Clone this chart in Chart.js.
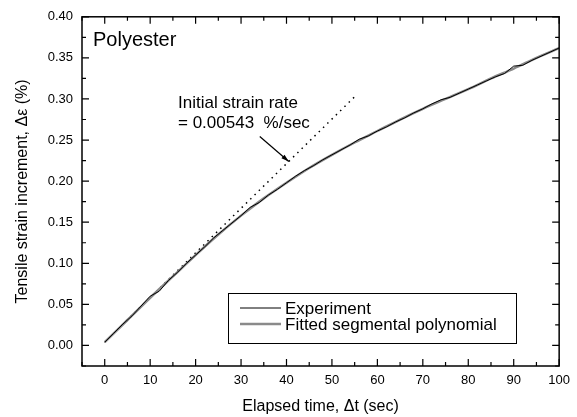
<!DOCTYPE html>
<html>
<head>
<meta charset="utf-8">
<script src="https://cdn.jsdelivr.net/npm/chart.js@4.4.1/dist/chart.umd.min.js"></script>
<style>
	html, body { margin:0; padding:0; background:#fff; }
	#wrap { width:577px; height:417px; }
</style>
</head>
<body>
<div id="wrap"><canvas id="strainChart" width="577" height="417"></canvas></div>
<script>
// elapsed time (sec) / strain increment (%)
var expTime = [0,2,4,6,8,10,12,14,16,18,20,22,24,26,28,30,32,34,36,38,40,42,44,46,48,50,
	52,54,56,58,60,62,64,66,68,70,72,74,76,78,80,82,84,86,88,90,92,94,96,98,100];
var expStrain = [0.004,0.015,0.026,0.036,0.048,0.060,0.066,0.079,0.089,0.100,0.110,0.120,0.131,0.140,0.149,0.158,0.168,0.174,0.183,0.190,
	0.198,0.206,0.213,0.219,0.226,0.232,0.238,0.244,0.251,0.255,0.261,0.266,0.272,0.277,0.283,0.288,0.294,0.299,0.302,0.307,
	0.312,0.317,0.322,0.327,0.331,0.340,0.341,0.347,0.352,0.357,0.362];

var fitTime = [0,5,10,15,20,25,30,35,40,45,50,55,60,65,70,75,80,85,90,95,100];
var fitStrain = [0.004,0.031,0.058,0.084,0.110,0.135,0.158,0.179,0.198,0.216,0.232,0.247,0.261,0.275,0.288,0.300,0.312,0.325,0.337,0.350,0.362];

// initial slope 0.00543 %/sec
var rateTime = [0, 55];
var rateStrain = [0.004, 0.3027];

var xTicks = [0,10,20,30,40,50,60,70,80,90,100];
var yTicks = [0,0.05,0.10,0.15,0.20,0.25,0.30,0.35,0.40];

var FONT = "'Liberation Sans', Arial, sans-serif";

function pts(xs, ys){
	return xs.map(function(x, i){ return {x:x, y:ys[i]}; });
}

var decor = {
	id:'decor',
	afterDraw:function(chart){
		var c = chart.ctx, a = chart.chartArea;
		var xs = chart.scales.x, ys = chart.scales.y;
		c.save();
		// frame
		c.strokeStyle = '#000';
		c.lineWidth = 1.5;
		c.strokeRect(a.left, a.top, a.right - a.left, a.bottom - a.top);
		// inward ticks on all sides
		c.lineWidth = 1.2;
		c.beginPath();
		for(var t = -5; t <= 100; t += 5){
			var px = xs.getPixelForValue(t);
			var len = (t % 10 === 0) ? 7 : 4;
			c.moveTo(px, a.bottom); c.lineTo(px, a.bottom - len);
			c.moveTo(px, a.top); c.lineTo(px, a.top + len);
		}
		for(var k = -1; k <= 16; k++){
			var v = k * 0.025;
			var py = ys.getPixelForValue(v);
			var l2 = (k % 2 === 0) ? 7 : 4;
			c.moveTo(a.left, py); c.lineTo(a.left + l2, py);
			c.moveTo(a.right, py); c.lineTo(a.right - l2, py);
		}
		c.stroke();

		// sample name
		c.fillStyle = '#000';
		c.textBaseline = 'alphabetic';
		c.textAlign = 'left';
		c.font = '20px ' + FONT;
		c.fillText('Polyester', a.left + 11, a.top + 29);

		// slope note and arrow
		c.font = '17px ' + FONT;
		c.fillText('Initial strain rate', 178, 108);
		c.fillText('= 0.00543  %/sec', 178, 128);
		var tx = xs.getPixelForValue(40.5), ty = ys.getPixelForValue(0.004 + 0.00543 * 40.5);
		var sx = tx - 29, sy = ty - 25;
		c.lineWidth = 1.2;
		c.beginPath(); c.moveTo(sx, sy); c.lineTo(tx, ty); c.stroke();
		var ang = Math.atan2(ty - sy, tx - sx);
		c.beginPath();
		c.moveTo(tx, ty);
		c.lineTo(tx - 8 * Math.cos(ang - 0.3), ty - 8 * Math.sin(ang - 0.3));
		c.lineTo(tx - 8 * Math.cos(ang + 0.3), ty - 8 * Math.sin(ang + 0.3));
		c.closePath(); c.fill();

		// legend box
		var bx = 228, by = 293, bw = 288, bh = 50;
		c.fillStyle = '#fff';
		c.fillRect(bx, by, bw, bh);
		c.strokeStyle = '#000';
		c.lineWidth = 1;
		c.strokeRect(bx + 0.5, by + 0.5, bw, bh);
		var rows = [chart.data.datasets[0], chart.data.datasets[1]];
		c.font = '17px ' + FONT;
		c.textBaseline = 'middle';
		rows.forEach(function(ds, i){
			var ry = by + 15 + i * 16;
			c.strokeStyle = ds.borderColor;
			c.lineWidth = ds.borderWidth;
			c.beginPath(); c.moveTo(bx + 12, ry); c.lineTo(bx + 53, ry); c.stroke();
			c.fillStyle = '#000';
			c.fillText(ds.label, bx + 57, ry + 1);
		});
		c.restore();
	}
};

var ctx = document.getElementById('strainChart').getContext('2d');
var chart = new Chart(ctx, {
	type:'scatter',
	data:{
		datasets:[{
			label:'Experiment',
			data:pts(expTime, expStrain),
			showLine:true,
			borderColor:'#000',
			borderWidth:1,
			pointRadius:0,
			order:1
		},{
			label:'Fitted segmental polynomial',
			data:pts(fitTime, fitStrain),
			showLine:true,
			borderColor:'#8a8a8a',
			borderWidth:2.5,
			pointRadius:0,
			cubicInterpolationMode:'monotone',
			order:2
		},{
			label:'Initial rate',
			data:pts(rateTime, rateStrain),
			showLine:true,
			borderColor:'#000',
			borderWidth:1.5,
			borderDash:[1.5, 4.5],
			pointRadius:0,
			order:3
		}]
	},
	options:{
		responsive:false,
		animation:false,
		layout:{ padding:{ top:16, right:13, left:0, bottom:0 } },
		plugins:{
			legend:{ display:false },
			tooltip:{ enabled:false }
		},
		scales:{
			x:{
				type:'linear',
				min:-5, max:100,
				afterBuildTicks:function(s){ s.ticks = xTicks.map(function(v){ return {value:v}; }); },
				afterFit:function(s){ s.height = 51; },
				grid:{ display:false, drawTicks:false },
				border:{ display:false },
				ticks:{
					padding:7,
					color:'#000',
					font:{ family:FONT, size:13 },
					callback:function(v){ return String(v); }
				},
				title:{
					display:true,
					text:'Elapsed time, \u0394t (sec)',
					color:'#000',
					font:{ family:FONT, size:16 },
					padding:{ top:0, bottom:1 }
				}
			},
			y:{
				type:'linear',
				min:-0.025, max:0.40,
				afterBuildTicks:function(s){ s.ticks = yTicks.map(function(v){ return {value:v}; }); },
				afterFit:function(s){ s.width = 82; },
				grid:{ display:false, drawTicks:false },
				border:{ display:false },
				ticks:{
					padding:9,
					color:'#000',
					font:{ family:FONT, size:13 },
					callback:function(v){ return Number(v).toFixed(2); }
				},
				title:{
					display:true,
					text:'Tensile strain increment, \u0394\u03b5 (%)',
					color:'#000',
					font:{ family:FONT, size:16 },
					padding:{ top:13, bottom:0 }
				}
			}
		}
	},
	plugins:[decor]
});
</script>
</body>
</html>
